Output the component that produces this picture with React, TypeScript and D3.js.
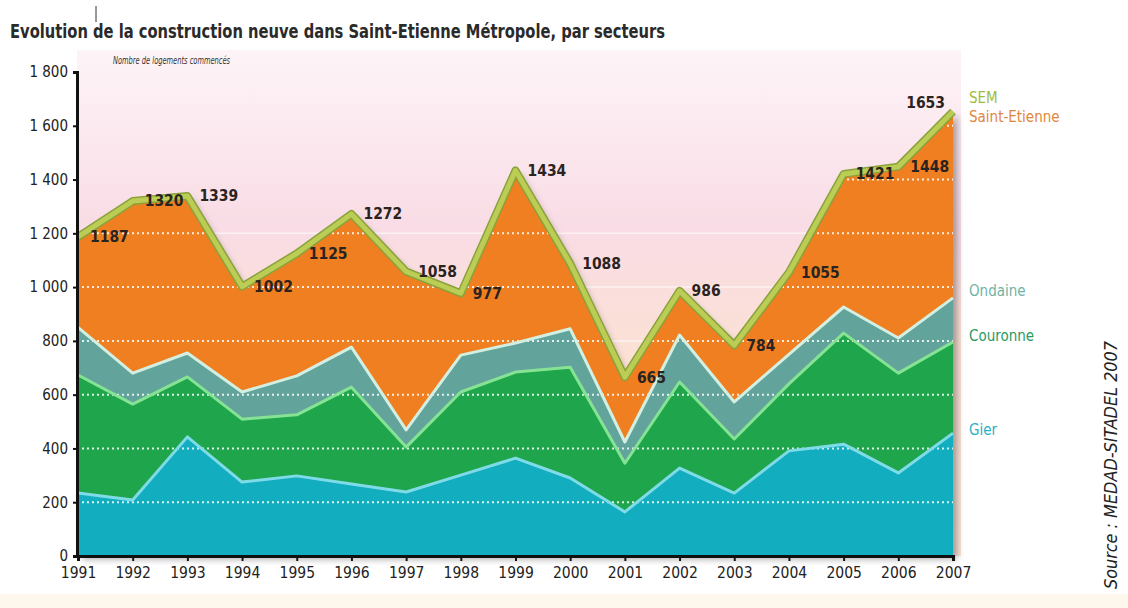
import React, { useEffect, useRef } from 'react';
import * as d3 from 'd3';

// housing starts per sector
const years = [1991, 1992, 1993, 1994, 1995, 1996, 1997, 1998, 1999, 2000, 2001, 2002, 2003, 2004, 2005, 2006, 2007];
const gier = [234, 208, 443, 275, 298, 268, 238, 301, 364, 290, 164, 327, 234, 391, 416, 309, 457];
const couronne = [439, 357, 223, 234, 227, 360, 167, 309, 320, 412, 181, 320, 201, 249, 413, 371, 339];
const ondaine = [177, 115, 89, 101, 145, 149, 64, 137, 108, 143, 79, 175, 138, 110, 97, 131, 164];
const saintEtienne = [337, 640, 584, 392, 455, 495, 589, 230, 642, 243, 241, 164, 211, 305, 495, 637, 693];
const semTotal = [1187, 1320, 1339, 1002, 1125, 1272, 1058, 977, 1434, 1088, 665, 986, 784, 1055, 1421, 1448, 1653];
const yTicks = [0, 200, 400, 600, 800, 1000, 1200, 1400, 1600, 1800];

const keys = ['gier', 'couronne', 'ondaine', 'saintEtienne'];
const fills = { gier: '#12adbf', couronne: '#1fa54b', ondaine: '#62a49b', saintEtienne: '#ef7f20' };
const edges = { gier: '#7fdbe8', couronne: '#86e394', ondaine: '#d2efe2', saintEtienne: '#f7a15a' };

const FONT = "'Liberation Sans Narrow', 'DejaVu Sans Condensed', 'Roboto', sans-serif";

function App() {
  const svgRef = useRef(null);

  useEffect(() => {
    const margin = { top: 72, left: 77, right: 175, bottom: 52 };
    const W = 1128, H = 608;
    const svg = d3.select(svgRef.current);
    svg.selectAll('*').remove();

    const x = d3.scaleLinear().domain([1991, 2007]).range([margin.left + 1, W - margin.right]);
    const y = d3.scaleLinear().domain([0, 1800]).range([H - margin.bottom, margin.top]);

    const rows = years.map((yr, i) => ({
      year: yr, gier: gier[i], couronne: couronne[i], ondaine: ondaine[i], saintEtienne: saintEtienne[i]
    }));
    const series = d3.stack().keys(keys)(rows);

    const defs = svg.append('defs');
    const bg = defs.append('linearGradient').attr('id', 'bg').attr('x1', 0).attr('x2', 0).attr('y1', 0).attr('y2', 1);
    bg.append('stop').attr('offset', '0%').attr('stop-color', '#fdf4f7');
    bg.append('stop').attr('offset', '35%').attr('stop-color', '#f9dce5');
    bg.append('stop').attr('offset', '60%').attr('stop-color', '#fbe1d5');
    bg.append('stop').attr('offset', '100%').attr('stop-color', '#fbe6d8');
    const sh = defs.append('filter').attr('id', 'shadow').attr('x', '-10%').attr('y', '-10%').attr('width', '130%').attr('height', '130%');
    sh.append('feDropShadow').attr('dx', 4).attr('dy', 3).attr('stdDeviation', 3.5).attr('flood-color', '#000').attr('flood-opacity', 0.35);

    const totalArea = d3.area().x((d, i) => x(years[i])).y0(y(0)).y1(d => y(d));
    defs.append('clipPath').attr('id', 'clipTotal').append('path').attr('d', totalArea(semTotal));

    // page background
    svg.append('rect').attr('width', W).attr('height', H).attr('fill', '#fff');
    svg.append('rect').attr('x', 0).attr('y', 594).attr('width', W).attr('height', 14).attr('fill', '#fdf7ee');

    // plot background
    svg.append('rect')
      .attr('x', margin.left).attr('y', 50)
      .attr('width', x(2007) - margin.left + 8).attr('height', y(0) - 50)
      .attr('fill', 'url(#bg)');

    // faint full-width grid
    svg.append('g').selectAll('line').data(yTicks.filter(t => t > 0 && t <= 1200)).enter().append('line')
      .attr('x1', margin.left).attr('x2', x(2007))
      .attr('y1', d => y(d)).attr('y2', d => y(d))
      .attr('stroke', '#fff').attr('stroke-width', 1.5).attr('opacity', 0.6);

    // shadow under the whole stack
    svg.append('path').attr('d', totalArea(semTotal)).attr('fill', '#ef7f20').attr('filter', 'url(#shadow)');

    const area = d3.area().x(d => x(d.data.year)).y0(d => y(d[0])).y1(d => y(d[1]));
    const topLine = d3.line().x(d => x(d.data.year)).y(d => y(d[1]));

    svg.append('g').selectAll('path').data(series).enter().append('path')
      .attr('d', area)
      .attr('fill', d => fills[d.key]);

    // dotted grid over the areas
    svg.append('g').attr('clip-path', 'url(#clipTotal)')
      .selectAll('line').data(yTicks.filter(t => t > 0)).enter().append('line')
      .attr('x1', margin.left).attr('x2', x(2007))
      .attr('y1', d => y(d)).attr('y2', d => y(d))
      .attr('stroke', '#fff').attr('stroke-width', 2).attr('stroke-dasharray', '2,3').attr('opacity', 0.85);

    svg.append('g').selectAll('path').data(series.slice(0, 3)).enter().append('path')
      .attr('d', topLine)
      .attr('fill', 'none')
      .attr('stroke', d => edges[d.key])
      .attr('stroke-width', 3)
      .attr('stroke-linejoin', 'round');

    // SEM total line
    const semLine = d3.line().x((d, i) => x(years[i])).y(d => y(d));
    svg.append('path').attr('d', semLine(semTotal))
      .attr('fill', 'none').attr('stroke', '#8aa23a').attr('stroke-width', 8).attr('stroke-linejoin', 'round');
    svg.append('path').attr('d', semLine(semTotal))
      .attr('fill', 'none').attr('stroke', '#bccd55').attr('stroke-width', 5).attr('stroke-linejoin', 'round');

    // value labels
    const last = years.length - 1;
    svg.append('g').selectAll('text').data(semTotal).enter().append('text')
      .attr('x', (d, i) => i === last ? x(years[i]) - 8 : x(years[i]) + 12)
      .attr('y', (d, i) => i === last ? y(d) - 4 : y(d))
      .attr('dy', (d, i) => i === last ? 0 : '0.35em')
      .attr('text-anchor', (d, i) => i === last ? 'end' : 'start')
      .attr('font-family', FONT).attr('font-weight', 'bold').attr('font-size', 15.5)
      .attr('fill', '#2b2320')
      .text(d => d);

    // axes
    const fmt = d3.formatLocale({ decimal: ',', thousands: ' ', grouping: [3], currency: ['', ''] }).format(',');
    const yAxis = svg.append('g').attr('transform', `translate(${margin.left},0)`)
      .call(d3.axisLeft(y).tickValues(yTicks).tickFormat(fmt).tickSize(4).tickPadding(5));
    yAxis.select('.domain').attr('stroke', '#111').attr('stroke-width', 3);
    yAxis.selectAll('.tick line').attr('stroke', '#111').attr('stroke-width', 2);
    yAxis.selectAll('text').attr('font-family', FONT).attr('font-size', 15).attr('fill', '#222');

    const xAxis = svg.append('g').attr('transform', `translate(0,${y(0)})`)
      .call(d3.axisBottom(x).tickValues(years).tickFormat(d3.format('d')).tickSize(5).tickPadding(6));
    xAxis.select('.domain').attr('stroke', '#111').attr('stroke-width', 3);
    xAxis.selectAll('.tick line').attr('stroke', '#111').attr('stroke-width', 2);
    xAxis.selectAll('text').attr('font-family', FONT).attr('font-size', 15.5).attr('fill', '#222');

    // titles
    svg.append('text').attr('x', 10).attr('y', 38)
      .attr('font-family', FONT).attr('font-weight', 'bold').attr('font-size', 19).attr('fill', '#2a2a2a')
      .attr('textLength', 655).attr('lengthAdjust', 'spacingAndGlyphs')
      .text('Evolution de la construction neuve dans Saint-Etienne Métropole, par secteurs');
    svg.append('line').attr('x1', 96).attr('x2', 96).attr('y1', 6).attr('y2', 22).attr('stroke', '#333').attr('stroke-width', 1);
    svg.append('text').attr('x', 113).attr('y', 64)
      .attr('font-family', FONT).attr('font-style', 'italic').attr('font-size', 10).attr('fill', '#333')
      .attr('textLength', 117).attr('lengthAdjust', 'spacingAndGlyphs')
      .text('Nombre de logements commencés');

    // series names on the right
    const legend = [
      { name: 'SEM', value: 1705, color: '#9fbb3d' },
      { name: 'Saint-Etienne', value: 1632, color: '#e2863a' },
      { name: 'Ondaine', value: 985, color: '#6fb3a6' },
      { name: 'Couronne', value: 818, color: '#2a9a63' },
      { name: 'Gier', value: 468, color: '#2bafc6' }
    ];
    svg.append('g').selectAll('text').data(legend).enter().append('text')
      .attr('x', x(2007) + 16).attr('y', d => y(d.value)).attr('dy', '0.35em')
      .attr('font-family', FONT).attr('font-size', 15).attr('fill', d => d.color)
      .text(d => d.name);

    svg.append('text')
      .attr('transform', 'translate(1117,465) rotate(-90)')
      .attr('text-anchor', 'middle')
      .attr('font-family', FONT).attr('font-style', 'italic').attr('font-size', 17).attr('fill', '#222')
      .attr('textLength', 248).attr('lengthAdjust', 'spacingAndGlyphs')
      .text('Source : MEDAD-SITADEL 2007');
  }, []);

  return (
    <svg ref={svgRef} width={1128} height={608}
      style={{ position: 'absolute', left: 0, top: 0, display: 'block' }} />
  );
}

export default App;
